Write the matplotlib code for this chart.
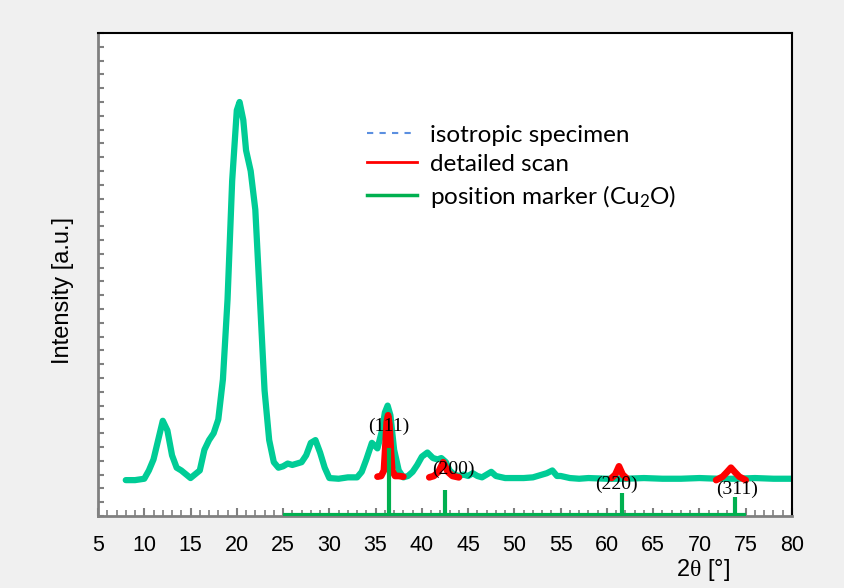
import matplotlib
matplotlib.use("Agg")
import matplotlib.pyplot as plt
from matplotlib.lines import Line2D
from matplotlib.ticker import MultipleLocator
import numpy as np

# ---- data -------------------------------------------------------------
two_theta = [8.0, 9.0, 10.0, 10.5, 11.0, 11.5, 12.0, 12.5, 13.0, 13.5, 14.0, 15.0,
             16.0, 16.5, 17.0, 17.5, 18.0, 18.5, 19.0, 19.5, 20.0, 20.3, 20.7, 21.0,
             21.5, 22.0, 22.5, 23.0, 23.5, 24.0, 24.5, 25.0, 25.5, 26.0, 26.5, 27.0,
             27.5, 28.0, 28.5, 29.0, 29.5, 30.0, 31.0, 32.0, 33.0, 33.5, 34.0, 34.6,
             35.2, 35.7, 36.0, 36.3, 36.6, 37.0, 37.5, 38.0, 38.5, 39.0, 39.5, 40.0,
             40.6, 41.2, 41.7, 42.1, 42.6, 43.0, 43.5, 44.0, 44.5, 45.0, 45.5, 46.0,
             46.5, 47.0, 47.5, 48.0, 49.0, 50.0, 51.0, 52.0, 53.0, 53.5, 54.1, 54.6,
             55.0, 56.0, 57.0, 58.0, 60.0, 62.0, 64.0, 66.0, 68.0, 70.0, 72.0, 74.0,
             76.0, 78.0, 80.0]
intensity = [2.6, 2.6, 2.7, 3.3, 4.1, 5.5, 6.9, 6.2, 4.4, 3.5, 3.3, 2.75,
             3.3, 4.8, 5.5, 6.0, 7.0, 9.9, 15.7, 24.3, 29.4, 30.0, 28.7, 26.5,
             25.0, 22.2, 15.7, 9.1, 5.5, 3.9, 3.5, 3.6, 3.8, 3.7, 3.8, 3.9,
             4.4, 5.3, 5.5, 4.6, 3.5, 2.75, 2.7, 2.8, 2.8, 3.2, 4.1, 5.3,
             4.9, 6.2, 7.5, 8.0, 7.3, 4.8, 3.3, 2.8, 2.9, 3.2, 3.7, 4.3,
             4.6, 4.2, 4.1, 4.2, 3.9, 3.3, 3.0, 2.9, 3.0, 2.9, 3.1, 2.9,
             2.8, 3.0, 3.2, 2.9, 2.75, 2.75, 2.75, 2.8, 3.0, 3.1, 3.3, 2.9,
             2.9, 2.75, 2.7, 2.75, 2.7, 2.7, 2.75, 2.7, 2.7, 2.75, 2.7, 2.7,
             2.75, 2.7, 2.7]

# detailed scans (red)
scan_111_x = [35.2, 35.6, 35.9, 36.05, 36.2, 36.35, 36.5, 36.65, 36.8, 37.1, 37.5, 38.0]
scan_111_y = [2.85, 2.9, 3.3, 5.0, 6.8, 7.3, 6.6, 4.8, 3.3, 2.9, 2.9, 2.85]
scan_200_x = [40.8, 41.3, 41.8, 42.3, 42.8, 43.3, 44.0]
scan_200_y = [2.8, 2.9, 3.2, 3.9, 3.2, 2.9, 2.8]
scan_220_x = [60.5, 60.9, 61.3, 61.7, 62.1]
scan_220_y = [2.75, 3.0, 3.6, 3.0, 2.75]
scan_311_x = [71.8, 72.5, 73.0, 73.4, 73.8, 74.3, 75.0]
scan_311_y = [2.6, 2.85, 3.2, 3.5, 3.2, 2.85, 2.6]

# Cu2O position markers
marker_pos = [36.4, 42.5, 61.6, 73.8]
marker_height = [4.9, 1.9, 1.7, 1.4]
marker_base = 0.1
marker_range = [25.0, 75.0]
hkl_labels = ["(111)", "(200)", "(220)", "(311)"]
hkl_label_x = [36.4, 43.4, 61.0, 74.1]
hkl_label_y = [6.5, 3.4, 2.3, 1.9]

x_ticks = [5, 10, 15, 20, 25, 30, 35, 40, 45, 50, 55, 60, 65, 70, 75, 80]

# ---- style ------------------------------------------------------------
plt.rcParams['mathtext.fontset'] = 'custom'
plt.rcParams['mathtext.rm'] = 'Lato'
plt.rcParams['mathtext.it'] = 'Liberation Serif'

fig = plt.figure(figsize=(8.44, 5.88), dpi=100, facecolor='#f0f0f0')
ax = fig.add_axes([98/844, 1-516/588, (792-98)/844, (516-33)/588])
ax.set_facecolor('white')

curve_c = '#00cc96'
red_c = '#ff0000'
mark_c = '#00b050'

ax.plot(two_theta, intensity, color=curve_c, lw=4.5, solid_capstyle='round',
        solid_joinstyle='round', zorder=2)
for sx, sy in [(scan_111_x, scan_111_y), (scan_200_x, scan_200_y),
               (scan_220_x, scan_220_y), (scan_311_x, scan_311_y)]:
    ax.plot(sx, sy, color=red_c, lw=4.8, solid_capstyle='round',
            solid_joinstyle='round', zorder=3)

ax.plot(marker_range, [marker_base, marker_base], color=mark_c, lw=3, zorder=4,
        solid_capstyle='butt')
ax.vlines(marker_pos, marker_base, marker_height, color=mark_c, lw=3, zorder=4)

for lab, lx, ly in zip(hkl_labels, hkl_label_x, hkl_label_y):
    ax.text(lx, ly, lab, ha='center', va='center', fontsize=14,
            family='Liberation Serif', color='black', zorder=5)

ax.set_xlim(5, 80)
ax.set_ylim(0, 35)
ax.set_xticks(x_ticks)
ax.xaxis.set_minor_locator(MultipleLocator(1))
ax.yaxis.set_major_locator(MultipleLocator(1))
ax.set_yticklabels([])
ax.tick_params(axis='x', which='major', direction='in', length=6, width=1.5,
               color='#808080', labelsize=15.5, pad=14, top=False)
ax.tick_params(axis='x', which='minor', direction='in', length=4, width=1.2,
               color='#808080', top=False)
ax.tick_params(axis='y', which='major', direction='in', length=4, width=1.5,
               color='#808080', right=False)
for lab in ax.get_xticklabels():
    lab.set_family('Liberation Sans')

for s in ['left', 'bottom']:
    ax.spines[s].set_color('#808080')
    ax.spines[s].set_linewidth(2)
for s in ['top', 'right']:
    ax.spines[s].set_color('black')
    ax.spines[s].set_linewidth(1.5)

fig.text(63/844, 1-290/588, 'Intensity [a.u.]', rotation=90, ha='center', va='center',
         fontsize=17, family='Liberation Sans')
fig.text(703/844, 1-570/588, r'2$\mathit{\theta}$ [°]', ha='center', va='center',
         fontsize=17, family='Liberation Sans')

handles = [Line2D([], [], color='#5b8fe0', lw=1.5, ls=(0, (3, 3))),
           Line2D([], [], color=red_c, lw=2),
           Line2D([], [], color=mark_c, lw=2.5)]
labels = ['isotropic specimen', 'detailed scan', r'position marker (Cu$_2$O)']
leg = ax.legend(handles, labels, loc='upper left', frameon=False,
                bbox_to_anchor=(357/844, 1-115/588), bbox_transform=fig.transFigure,
                prop={'family': 'Lato', 'size': 17.5}, handlelength=2.05,
                handletextpad=0.55, labelspacing=0.33, borderpad=0.4,
                borderaxespad=0)

fig.savefig('out.png', dpi=100, facecolor=fig.get_facecolor())
